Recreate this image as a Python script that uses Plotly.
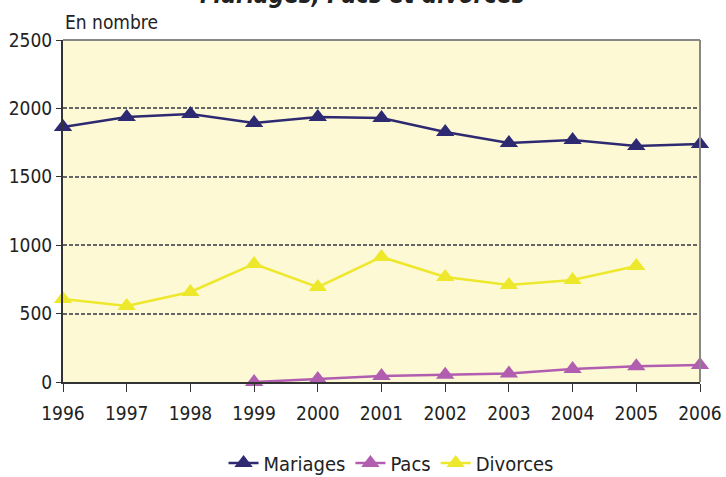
import plotly.graph_objects as go

years = [1996, 1997, 1998, 1999, 2000, 2001, 2002, 2003, 2004, 2005, 2006]
mariages = [1864, 1937, 1959, 1893, 1937, 1930, 1827, 1747, 1769, 1725, 1740]
pacs_years = [1999, 2000, 2001, 2002, 2003, 2004, 2005, 2006]
pacs = [0, 22, 44, 53, 63, 95, 115, 124]
divorces_years = [1996, 1997, 1998, 1999, 2000, 2001, 2002, 2003, 2004, 2005]
divorces = [607, 556, 658, 863, 694, 914, 768, 709, 746, 848]
y_ticks = [0, 500, 1000, 1500, 2000, 2500]

FONT = "DejaVu Sans Condensed, Liberation Sans Narrow, sans-serif"

fig = go.Figure()
series = [
    ("Mariages", years, mariages, "#2E2A72"),
    ("Pacs", pacs_years, pacs, "#B15DB0"),
    ("Divorces", divorces_years, divorces, "#EDE82B"),
]
for name, xs, ys, col in series:
    fig.add_trace(go.Scatter(
        x=xs, y=ys, name=name, mode="lines+markers",
        line=dict(color=col, width=2.5),
        marker=dict(symbol="triangle-up", size=16, color=col),
        cliponaxis=False,
    ))

fig.update_layout(
    width=726, height=477,
    margin=dict(l=63, r=26, t=40, b=95, autoexpand=False),
    paper_bgcolor="white",
    plot_bgcolor="#FEF9D5",
    font=dict(family=FONT, size=19, color="#222222"),
    showlegend=True,
    legend=dict(orientation="h", x=0.515, xanchor="center", y=-0.237, yanchor="middle",
                font=dict(size=20), tracegroupgap=0),
    xaxis=dict(range=[1996, 2006], tickmode="array", tickvals=years,
               ticks="outside", ticklen=8, tickcolor="#333", showgrid=False,
               showline=True, linecolor="#333", linewidth=2, zeroline=False,
               automargin=False, ticklabelstandoff=5, tickfont=dict(size=19)),
    yaxis=dict(range=[0, 2500], tickmode="array", tickvals=y_ticks,
               ticks="outside", ticklen=5, tickcolor="#333",
               showgrid=True, gridcolor="#666666", griddash="4px,2px", gridwidth=1.5,
               showline=True, linecolor="#333", linewidth=2, zeroline=False,
               automargin=False, tickfont=dict(size=19)),
    shapes=[
        dict(type="line", xref="paper", yref="paper", x0=0, x1=1, y0=1, y1=1,
             line=dict(color="#888888", width=2)),
        dict(type="line", xref="paper", yref="paper", x0=1, x1=1, y0=0, y1=1,
             line=dict(color="#888888", width=2)),
    ],
    annotations=[
        dict(text="En nombre", xref="paper", yref="paper", x=0, y=1.0 + 18/342,
             xanchor="left", yanchor="middle", showarrow=False,
             font=dict(size=19, family=FONT)),
        dict(text="<b><i>Mariages, Pacs et divorces</i></b>", xref="paper", yref="paper",
             x=0.47, y=1.0 + 45/342, xanchor="center", yanchor="middle", showarrow=False,
             font=dict(size=24, family=FONT)),
    ],
)

fig.write_html("out.html", config={"displayModeBar": False},
               post_script="document.body.style.margin='0';document.body.style.overflow='hidden';")
